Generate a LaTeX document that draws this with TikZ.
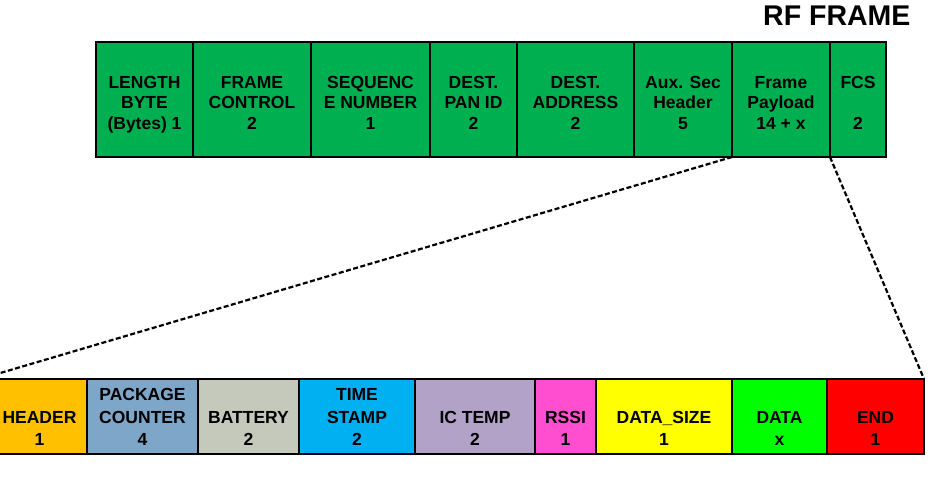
\documentclass[tikz,border=0pt]{standalone}
\usepackage{fontspec}
\setmainfont{Liberation Sans}
\definecolor{fgreen}{HTML}{00B050}
\definecolor{hdrc}{HTML}{FFC000}
\definecolor{pkgc}{HTML}{7EA6C9}
\definecolor{batc}{HTML}{C4C9BC}
\definecolor{timc}{HTML}{00B0F0}
\definecolor{icc}{HTML}{B3A2C7}
\definecolor{rsc}{HTML}{FF4FD0}
\definecolor{dsc}{HTML}{FFFF00}
\definecolor{datc}{HTML}{00FF00}
\definecolor{endcol}{HTML}{FF0000}
\begin{document}
\begin{tikzpicture}[x=1pt,y=-1pt,
  cellbox/.style={draw=black, line width=2pt, inner sep=0pt, outer sep=0pt},
  toptext/.style={font=\bfseries\fontsize{17.5}{20.5}\selectfont, align=center, inner sep=0pt},
  bottext/.style={font=\bfseries\fontsize{17.5}{22.5}\selectfont, align=center, inner sep=0pt},
  zoomline/.style={draw=black, line width=2.2pt, dash pattern=on 5pt off 2.5pt}]
\useasboundingbox (0,0) rectangle (936,488);
\fill[white] (0,0) rectangle (936,488);
\clip (0,0) rectangle (936,488);

\node[font=\bfseries\fontsize{28.5}{34}\selectfont, anchor=base west, inner sep=0pt] (title) at (763,25) {RF FRAME};

\foreach \nm/\xa/\xb/\txt in {
  len/96/193/{LENGTH\\BYTE\\(Bytes) 1},
  fc/193/311/{FRAME\\CONTROL\\2},
  seq/311/430/{SEQUENC\\E NUMBER\\1},
  pan/430/517/{DEST.\\PAN ID\\2},
  dad/517/634/{DEST.\\ADDRESS\\2},
  aux/634/732/{Aux. Sec\\Header\\5},
  pay/732/830/{Frame\\Payload\\14 + x},
  fcs/830/886/{FCS\\\mbox{}\\2}} {
  \node[cellbox, fill=fgreen, minimum width={\xb-\xa}, minimum height=115] (\nm) at ({(\xa+\xb)/2},99.5) {};
  \node[toptext] (\nm-t) at ([yshift=-5pt]\nm.center) {\strut\txt\strut};
}

\foreach \nm/\xa/\xb/\col/\dx/\txt in {
  hdr/-20/87/hdrc/6/{\\HEADER\\1},
  pkg/87/198/pkgc/0/{PACKAGE\\COUNTER\\4},
  bat/198/299/batc/0/{\\BATTERY\\2},
  tim/299/415/timc/0/{TIME\\STAMP\\2},
  ict/415/535/icc/0/{\\IC TEMP\\2},
  rss/535/596/rsc/0/{\\RSSI\\1},
  dsz/596/732/dsc/0/{\\DATA\_SIZE\\1},
  dat/732/827/datc/0/{\\DATA\\x},
  endc/827/924/endcol/0/{\\END\\1}} {
  \node[cellbox, fill=\col, minimum width={\xb-\xa}, minimum height=75] (\nm) at ({(\xa+\xb)/2},416.5) {};
  \node[bottext] (\nm-t) at ([xshift=\dx pt, yshift=-2.3pt]\nm.center) {\strut\txt\strut};
}

\draw[zoomline] (pay.south west) -- (hdr.north west);
\draw[zoomline] (pay.south east) -- (endc.north east);
\end{tikzpicture}
\end{document}
